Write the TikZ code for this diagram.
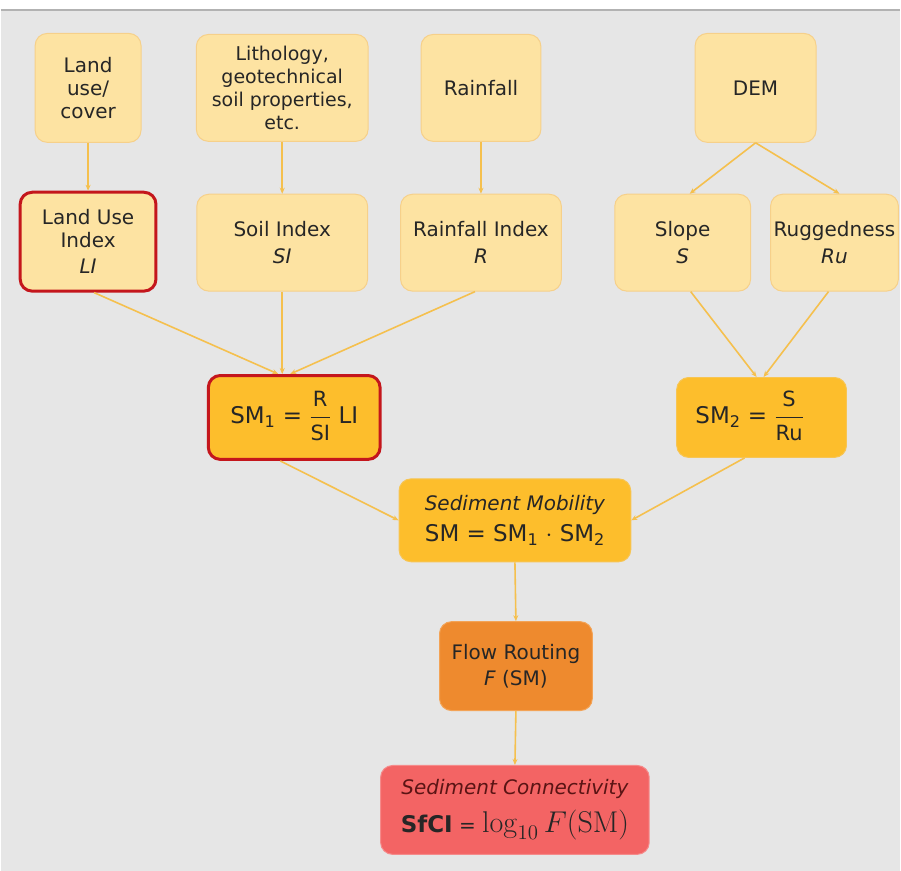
\documentclass[tikz,border=0pt]{standalone}
\usepackage{graphicx}
\usepackage[no-math]{fontspec}
\setmainfont{DejaVu Sans}
\usetikzlibrary{arrows.meta,calc}
\definecolor{bg}{HTML}{E6E6E6}
\definecolor{lightbox}{HTML}{FDE3A2}
\definecolor{lightedge}{HTML}{F6D08A}
\definecolor{amber}{HTML}{FDBE2C}
\definecolor{amberedge}{HTML}{F7C553}
\definecolor{orangebox}{HTML}{EE8A2E}
\definecolor{orangeedge}{HTML}{F3A356}
\definecolor{salmon}{HTML}{F36464}
\definecolor{salmonedge}{HTML}{F58A8A}
\definecolor{rededge}{HTML}{C4161C}
\definecolor{arrowc}{HTML}{F5C04E}
\definecolor{maroon}{HTML}{5A1414}
\tikzset{
 box/.style={rectangle, rounded corners=12pt, align=center, font=\fontsize{20}{23}\selectfont, text=black!85, inner sep=2pt},
 light/.style={box, fill=lightbox, draw=lightedge, line width=1pt},
 redb/.style={draw=rededge, line width=3pt},
 ambr/.style={box, fill=amber, draw=amberedge, line width=1pt},
 arr/.style={draw=arrowc, line width=1.6pt, -{Stealth[length=6pt,width=5pt]}},
}
\newcommand{\fracpart}[1]{\mbox{\fontsize{21}{22}\selectfont\raisebox{0pt}[16pt][4pt]{#1}}}
\begin{document}
\begin{tikzpicture}[x=1pt,y=-1pt]
\fill[white] (0,0) rectangle (901,872);
\fill[bg] (0,10) rectangle (901,872);
\draw[gray!60, line width=1.2pt] (0,10) -- (901,10);
\useasboundingbox (0,0) rectangle (901,872);
% top row
\node[light, minimum width=106pt, minimum height=109pt] (lu) at (87.6,88) {Land\\use/\\cover};
\node[light, minimum width=172pt, minimum height=107pt, font=\fontsize{19}{23}\selectfont] (lith) at (282,88) {Lithology,\\geotechnical\\soil properties,\\etc.};
\node[light, minimum width=120pt, minimum height=107pt] (rain) at (481,88) {Rainfall};
\node[light, minimum width=121pt, minimum height=109pt] (dem) at (756,88) {DEM};
% second row
\node[light, redb, minimum width=136pt, minimum height=99pt] (lui) at (87.6,242) {Land Use\\Index\\[3pt]\textit{LI}};
\node[light, minimum width=171pt, minimum height=97pt] (si) at (282,243) {Soil Index\\[4pt]\textit{SI}};
\node[light, minimum width=161pt, minimum height=97pt] (ri) at (481,243) {Rainfall Index\\[4pt]\textit{R}};
\node[light, minimum width=136pt, minimum height=97pt] (sl) at (683,243) {Slope\\[4pt]\textit{S}};
\node[light, minimum width=128pt, minimum height=97pt] (ru) at (835,243) {Ruggedness\\[4pt]\textit{Ru}};
% third row
\node[ambr, redb, minimum width=172pt, minimum height=84pt, font=\fontsize{23}{26}\selectfont] (sm1) at (294,418)
 {SM\textsubscript{1} = ${\displaystyle\frac{\fracpart{R}}{\fracpart{SI}}}$ LI};
\node[ambr, minimum width=170pt, minimum height=80pt, font=\fontsize{23}{26}\selectfont] (sm2) at (762,418)
 {SM\textsubscript{2} = ${\displaystyle\frac{\fracpart{S}}{\fracpart{Ru}}}$\hspace*{24pt}};
\node[ambr, minimum width=232pt, minimum height=83pt] (sm) at (515,521)
 {{\fontsize{20}{22}\selectfont\itshape Sediment Mobility}\\[8pt]{\fontsize{23}{26}\selectfont SM = SM\textsubscript{1} $\cdot$ SM\textsubscript{2}}};
\node[box, fill=orangebox, draw=orangeedge, line width=1pt, minimum width=153pt, minimum height=89pt] (fr) at (516,667)
 {Flow Routing\\[3pt]\textit{F} (SM)};
\node[box, fill=salmon, draw=salmonedge, line width=1pt, minimum width=269pt, minimum height=89pt, inner sep=0pt] (sc) at (515,811)
 {{\fontsize{20}{22}\selectfont\itshape\color{maroon}Sediment Connectivity}\\[10pt]
  {\fontsize{23}{32}\selectfont\bfseries SfCI} {\fontsize{20}{32}\selectfont =} {\fontsize{20}{24}\selectfont\scalebox{1.45}{$\log_{10} F(\mathrm{SM})$}}};
% arrows
\draw[arr] (lu.south) -- (lui.north);
\draw[arr] (lith.south) -- (si.north);
\draw[arr] (rain.south) -- (ri.north);
\draw[arr] (dem.south) -- ($(sl.north)+(7,0)$);
\draw[arr] (dem.south) -- ($(ru.north)+(5,0)$);
\draw[arr] ($(lui.south)+(6,0)$) -- ($(sm1.north)+(-16,0)$);
\draw[arr] (si.south) -- ($(sm1.north)+(-12,0)$);
\draw[arr] ($(ri.south)+(-6,0)$) -- ($(sm1.north)+(-4,0)$);
\draw[arr] ($(sl.south)+(8,0)$) -- ($(sm2.north)+(-5,0)$);
\draw[arr] ($(ru.south)+(-6,0)$) -- ($(sm2.north)+(2,0)$);
\draw[arr] ($(sm1.south)+(-14,0)$) -- (sm.west);
\draw[arr] ($(sm2.south)+(-17,0)$) -- (sm.east);
\draw[arr] (sm.south) -- (fr.north);
\draw[arr] (fr.south) -- (sc.north);
\end{tikzpicture}
\end{document}
